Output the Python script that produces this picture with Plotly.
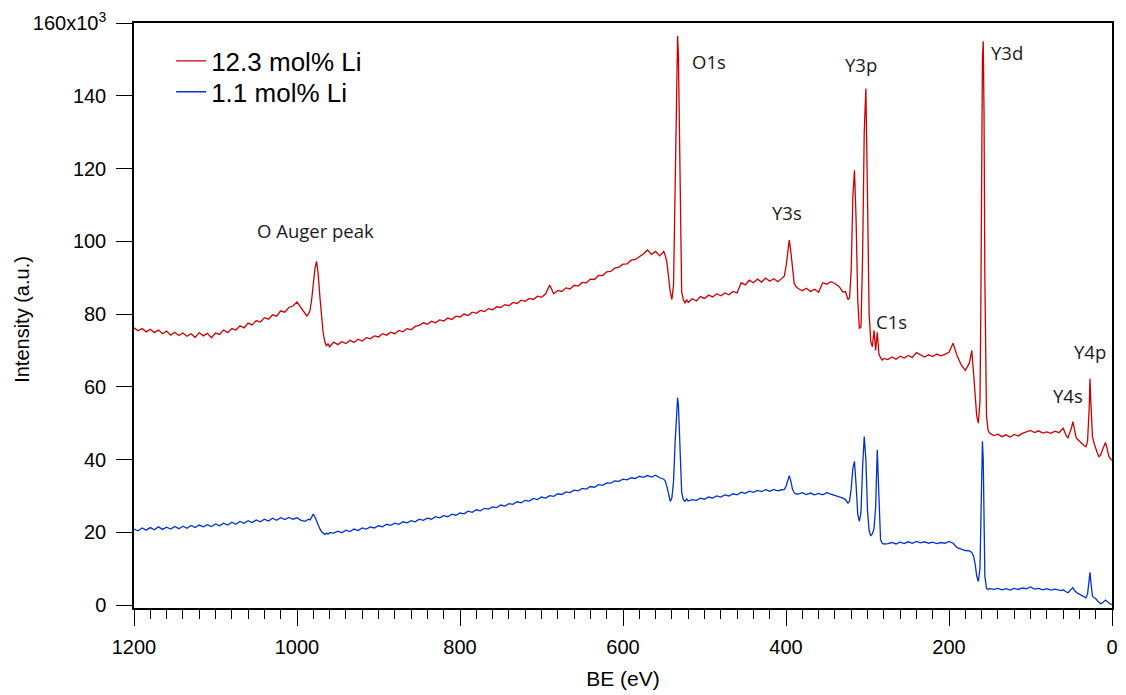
import plotly.graph_objects as go

# Binding energy grid (eV)
be = [
    1200, 1195, 1190, 1185, 1180, 1175, 1170, 1165, 1160, 1155, 1150, 1145, 1140, 1135, 1130, 1125, 1120, 1115, 1110, 1105,
    1100, 1095, 1090, 1085, 1080, 1075, 1070, 1065, 1060, 1055, 1050, 1045, 1040, 1035, 1030, 1025, 1020, 1015, 1010, 1005,
    1000, 995, 990,
    988, 986, 984, 982, 980, 978, 976, 974, 972, 970, 968, 966, 964, 962, 960,
    955, 950, 945, 940, 935, 930, 925, 920, 915, 910, 905, 900,
    895, 890, 885, 880, 875, 870, 865, 860, 855, 850,
    845, 840, 835, 830, 825, 820, 815, 810, 805, 800,
    795, 790, 785, 780, 775, 770, 765, 760, 755, 750,
    745, 740, 735, 730, 725, 720, 715, 710, 705, 700,
    695, 690, 685, 680, 675, 670, 665, 660, 655, 650,
    645, 640, 635, 630, 625, 620, 615, 610, 605, 600,
    595, 590, 585, 580, 575, 570, 565, 560, 555, 550,
    548, 546, 544, 542, 540, 538, 536, 534, 533, 532, 530, 528, 526, 524, 522, 520,
    515, 510, 505, 500, 495, 490, 485, 480, 475, 470, 465, 460, 455, 450, 445, 440, 435, 430, 425, 420, 415, 410, 405,
    402, 400, 398, 396, 394, 392, 390, 388,
    385, 380, 375, 370, 365, 360, 355, 350, 345, 340, 335, 330,
    327, 324, 322, 320, 318, 316, 314, 312, 310, 308, 306, 304, 302, 300, 298, 296, 294, 292, 290, 288, 286, 284, 282, 280,
    275, 270, 265, 260, 255, 250, 245, 240, 235, 230, 225, 220, 215, 210, 205, 200, 195, 190, 185, 180, 175,
    172, 170, 168, 166, 164, 162, 161, 160, 159, 158, 157, 156, 154, 152, 150,
    145, 140, 135, 130, 125, 120, 115, 110, 105, 100, 95, 90, 85, 80, 75, 70, 65,
    62, 60, 58, 56, 54, 52, 50, 48, 46, 44, 42, 40, 38, 36, 34, 32, 30, 28, 27, 26, 24, 22, 20, 18, 16, 14, 12, 10, 8, 6, 4, 2, 0,
]

# Intensity (x10^3 counts), 12.3 mol% Li
int_red = [
    76.2, 75.4, 76.0, 75.1, 75.8, 74.9, 75.6, 74.6, 75.3, 74.2, 75.0, 74.1, 74.8, 73.9, 74.6, 73.6, 74.9, 74.0, 74.7, 73.5,
    74.8, 74.4, 75.6, 74.9, 76.0, 75.6, 76.8, 76.2, 77.5, 77.0, 78.2, 77.8, 79.0, 78.6, 79.8, 79.4, 80.9, 80.5, 81.8, 82.2,
    83.3, 81.8, 80.2,
    79.5, 80.0, 81.0, 84.0, 88.5, 92.5, 94.5, 91.0, 85.0, 79.0, 75.0, 72.5, 71.3, 71.8, 71.0,
    72.3, 71.6, 72.4, 71.9, 72.8, 72.2, 73.1, 72.6, 73.5, 73.2, 74.0, 73.7,
    74.6, 74.2, 75.0, 74.6, 75.5, 75.1, 76.0, 75.7, 76.6, 76.9,
    77.6, 77.2, 78.0, 77.6, 78.4, 78.1, 78.9, 78.5, 79.4, 79.2,
    80.0, 79.6, 80.5, 80.2, 81.0, 80.7, 81.5, 81.2, 82.0, 81.8,
    82.6, 82.3, 83.2, 82.9, 83.8, 83.5, 84.3, 84.0, 84.9, 84.6,
    85.5, 88.0, 85.6, 86.5, 86.2, 87.2, 86.9, 87.9, 87.7, 88.7,
    88.6, 89.6, 89.5, 90.6, 90.6, 91.6, 91.7, 92.6, 92.9, 93.7,
    93.8, 94.8, 95.0, 95.8, 96.5, 97.6, 96.4, 97.2, 96.0, 97.2,
    96.0, 94.0, 90.0, 86.0, 84.0, 88.0, 115.0, 150.0, 156.5, 151.0, 112.0, 86.0, 84.0, 83.0, 84.0, 83.2,
    84.2, 83.6, 84.8, 84.3, 85.2, 84.7, 85.6, 85.0, 85.8, 85.3, 86.2, 85.8, 88.6, 88.0, 89.3, 88.6, 89.6, 88.8, 89.9, 89.0, 89.7, 88.9, 89.8,
    90.5, 93.0, 97.5, 100.3, 97.0, 91.5, 88.5, 87.6,
    87.0, 86.4, 87.1, 86.2, 86.8, 86.0, 88.6, 88.2, 88.9, 88.4, 87.6, 86.0,
    86.2, 84.0, 84.5, 92.0, 112.0, 119.5, 106.0, 84.0, 76.0, 76.5, 96.0, 130.0, 142.0, 112.0, 80.0, 72.5, 71.0, 75.5, 70.0, 75.0, 69.0, 68.0, 67.3, 67.8,
    67.5, 68.2, 67.6, 68.4, 67.9, 68.6, 68.1, 69.4, 68.8, 68.2, 68.8, 68.3, 69.0, 68.5, 68.9, 69.5, 72.0, 68.5, 66.0, 64.5, 66.5,
    70.0, 64.0, 57.0, 52.0, 50.0, 56.0, 80.0, 125.0, 150.0, 155.0, 135.0, 90.0, 52.0, 48.0, 47.2,
    46.6, 47.0, 46.3, 46.8, 46.2, 46.9, 46.5, 47.2, 47.6, 48.0, 47.4, 47.9, 47.3, 47.6, 47.2, 47.8, 47.4,
    48.2, 48.6, 47.6, 46.5, 46.0, 47.0, 48.5, 50.4, 48.0, 46.0, 45.5, 45.0, 44.6, 44.2, 43.8, 43.5, 45.0, 54.0, 62.2, 56.0, 46.3, 44.5, 43.0, 41.8, 40.8, 41.2, 42.5, 43.8, 44.7, 43.0, 41.0, 40.2, 39.8,
]

# Intensity (x10^3 counts), 1.1 mol% Li
int_blue = [
    20.9, 20.4, 21.2, 20.6, 21.3, 20.7, 21.5, 20.8, 21.4, 20.9, 21.6, 21.0, 21.7, 21.1, 21.9, 21.3, 22.0, 21.5, 22.1, 21.6,
    22.3, 21.8, 22.5, 22.0, 22.8, 22.2, 23.0, 22.5, 23.2, 22.7, 23.4, 22.9, 23.6, 23.1, 23.9, 23.3, 24.0, 23.5, 24.1, 23.6,
    24.0, 23.3, 23.0,
    23.2, 23.6, 23.4, 24.4, 25.0, 24.2, 23.0, 22.0, 21.0, 20.2, 19.8, 19.4, 19.8, 19.5, 19.9,
    19.8, 20.3, 19.9, 20.6, 20.2, 20.9, 20.5, 21.2, 20.9, 21.5, 21.2, 21.8,
    21.5, 22.2, 21.9, 22.5, 22.2, 22.9, 22.6, 23.2, 22.9, 23.6,
    23.3, 23.9, 23.6, 24.3, 24.0, 24.6, 24.3, 25.0, 24.7, 25.3,
    25.1, 25.8, 25.5, 26.2, 25.9, 26.6, 26.4, 27.0, 26.8, 27.5,
    27.2, 27.9, 27.7, 28.4, 28.1, 28.8, 28.6, 29.3, 29.0, 29.7,
    29.4, 30.1, 29.9, 30.6, 30.4, 31.1, 30.9, 31.6, 31.4, 32.1,
    31.9, 32.6, 32.4, 33.1, 32.9, 33.6, 33.5, 34.1, 34.0, 34.6,
    34.4, 35.0, 34.8, 35.4, 35.1, 35.6, 35.2, 35.7, 35.0, 34.6,
    34.0, 32.5, 30.0, 28.5, 29.5, 34.0, 45.0, 55.0, 57.0, 55.0, 42.0, 31.0, 29.0, 28.5, 29.2, 28.6,
    29.0, 28.8, 29.4, 29.1, 29.7, 29.4, 30.0, 29.7, 30.3, 30.0, 30.6, 30.3, 31.0, 30.7, 31.3, 31.0, 31.5, 31.2, 31.7, 31.3, 31.8, 31.4, 31.7,
    31.8, 32.6, 34.5, 35.6, 34.0, 31.8, 30.9, 30.6,
    30.5, 30.9, 30.4, 30.8, 30.3, 30.7, 30.3, 30.9, 30.5, 30.2, 29.8, 29.4,
    29.0, 28.0, 28.6, 32.0, 37.5, 39.5, 33.0, 25.0, 23.0, 25.5, 38.0, 46.3, 40.0, 26.0, 20.5, 19.0, 19.6, 21.0, 27.0, 42.7, 30.0, 18.0, 17.0, 16.8,
    16.9, 17.2, 16.8, 17.3, 16.9, 17.4, 17.0, 17.5, 17.1, 17.4, 17.0, 17.3, 16.9, 17.2, 17.0, 17.5, 17.0, 15.8, 15.4, 15.0, 14.9,
    14.5, 13.5, 11.5, 8.0, 6.5, 10.0, 22.0, 38.0, 45.0, 40.0, 22.0, 8.0, 4.6, 4.3, 4.5,
    4.3, 4.6, 4.2, 4.5, 4.1, 4.6, 4.3, 4.7, 4.5, 5.0, 4.4, 4.6, 4.2, 4.5, 4.1, 4.4, 4.2,
    4.0, 4.2, 3.8, 3.6, 3.4, 3.8, 4.3, 4.8, 4.0, 3.5, 3.2, 3.0, 2.7, 2.5, 2.2, 2.0, 3.0, 7.5, 9.0, 6.5, 2.5, 2.0, 1.8, 1.2, 0.8, 0.4, 0.6, 1.0, 1.4, 1.0, 0.5, 0.3, 0.1,
]

series_names = ["12.3 mol% Li", "1.1 mol% Li"]
series_colors = ["#CC0000", "#0033CC"]

y_tickvals = [0, 20, 40, 60, 80, 100, 120, 140, 160]
y_ticktext = ["0", "20", "40", "60", "80", "100", "120", "140", "160x10<sup>3</sup>"]
x_tickvals = [1200, 1000, 800, 600, 400, 200, 0]

peak_labels = ["O Auger peak", "O1s", "Y3p", "Y3s", "C1s", "Y3d", "Y4p", "Y4s"]
peak_label_be = [977, 495, 308, 399, 271, 129, 27, 54]
peak_label_int = [103, 149.5, 148.5, 108, 78, 152, 69.6, 57.5]

AX_FONT = "Liberation Sans, Arial, sans-serif"

fig = go.Figure()
fig.add_trace(go.Scatter(x=be, y=int_red, mode="lines", name=series_names[0], legend="legend",
                         line=dict(color=series_colors[0], width=1.3)))
fig.add_trace(go.Scatter(x=be, y=int_blue, mode="lines", name=series_names[1], legend="legend2",
                         line=dict(color=series_colors[1], width=1.3)))

for t, xv, yv in zip(peak_labels, peak_label_be, peak_label_int):
    fig.add_annotation(x=xv, y=yv, text=t, showarrow=False, xanchor="center", yanchor="middle",
                       font=dict(family="Open Sans", size=18.5, color="#1a1a1a"))

# y-axis title placed to the far left, as in the reference
fig.add_annotation(xref="paper", yref="paper", x=-0.1153, y=0.493, text="Intensity (a.u.)",
                   textangle=-90, showarrow=False, xanchor="center", yanchor="middle",
                   font=dict(family=AX_FONT, size=20, color="black"))

legend_style = dict(xanchor="left", yanchor="middle", bgcolor="rgba(0,0,0,0)",
                    font=dict(family=AX_FONT, size=26, color="black"))

fig.update_layout(
    width=1126, height=695,
    margin=dict(l=134, r=8, t=23, b=86),
    paper_bgcolor="white", plot_bgcolor="white",
    font=dict(family=AX_FONT, color="black"),
    showlegend=True,
    legend=dict(x=0.038, y=0.9352, **legend_style),
    legend2=dict(x=0.038, y=0.8823, **legend_style),
)
fig.update_xaxes(
    range=[1200, 0], autorange=False,
    showline=True, linecolor="black", linewidth=1.5, mirror=True,
    showgrid=False, zeroline=False,
    tickvals=x_tickvals, ticks="outside", ticklen=16, tickwidth=1.3, tickcolor="black",
    minor=dict(dtick=20, ticks="outside", ticklen=9, tickwidth=1, tickcolor="black", showgrid=False),
    tickfont=dict(size=20, family=AX_FONT), ticklabelstandoff=4,
    title=dict(text="BE (eV)", font=dict(size=21, family=AX_FONT), standoff=15),
)
fig.update_yaxes(
    range=[-0.8, 160], autorange=False,
    showline=True, linecolor="black", linewidth=1.5, mirror=True,
    showgrid=False, zeroline=False,
    tickvals=y_tickvals, ticktext=y_ticktext, ticks="outside", ticklen=16, tickwidth=1.3, tickcolor="black",
    tickfont=dict(size=20, family=AX_FONT), ticklabelstandoff=6,
)

fig.write_html("out.html")
